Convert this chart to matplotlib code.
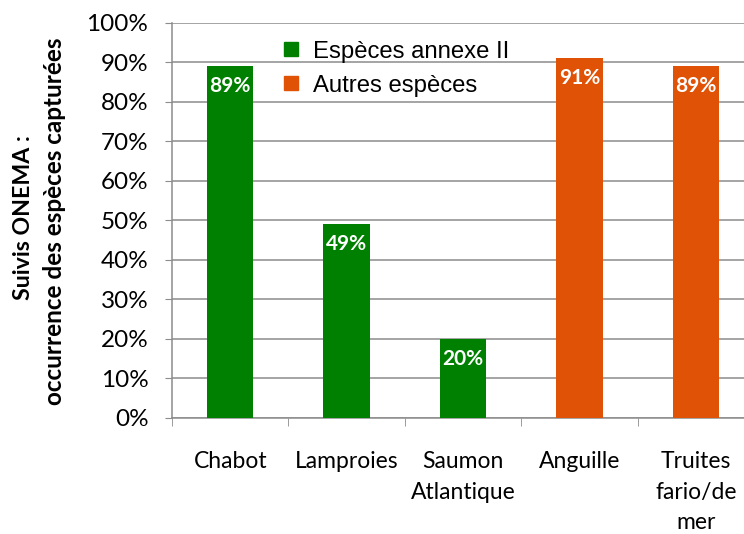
import matplotlib
matplotlib.use("Agg")
import matplotlib.pyplot as plt
from matplotlib.lines import Line2D
import numpy as np

categories = ["Chabot", "Lamproies", "Saumon\nAtlantique", "Anguille", "Truites\nfario/de\nmer"]
values = [89, 49, 20, 91, 89]
groups = ["annexe", "annexe", "annexe", "autres", "autres"]
legend_labels = {"annexe": "Espèces annexe II", "autres": "Autres espèces"}
colors = {"annexe": "#008000", "autres": "#E05206"}

fig = plt.figure(figsize=(7.44, 5.34), dpi=100)
ax = fig.add_axes([172 / 744, 1 - 418 / 534, (754 - 172) / 744, (418 - 22.7) / 534])

x = np.arange(len(categories))
ax.bar(x, values, width=0.4, color=[colors[g] for g in groups], zorder=3)
for xi, v in zip(x, values):
    ax.text(xi, v - 2.5, f"{v}%", ha="center", va="top", color="white",
            fontsize=15, fontweight="bold", family="Lato", zorder=4)

ax.set_xlim(-0.5, len(categories) - 0.5)
ax.set_ylim(0, 100)
ax.set_yticks(np.arange(0, 101, 10))
ax.set_yticklabels([f"{t}%" for t in range(0, 101, 10)], family="Lato", fontsize=17.5)
ax.set_xticks(x)
ax.set_xticklabels(categories, family="Lato", fontsize=16.5, linespacing=1.55)
ax.set_xticks(np.arange(-0.5, len(categories)), minor=True)
ax.tick_params(axis="x", which="major", length=0, pad=24)
ax.tick_params(axis="x", which="minor", length=6, color="#8c8c8c", direction="out")
ax.tick_params(axis="y", length=5, color="#8c8c8c", direction="out", pad=12)
ax.yaxis.grid(True, color="#8c8c8c", lw=1.1, zorder=0)
for s in ("top", "right"):
    ax.spines[s].set_visible(False)
for s in ("left", "bottom"):
    ax.spines[s].set_color("#8c8c8c")
    ax.spines[s].set_linewidth(1.1)

fig.text(24 / 744, 1 - 218 / 534, "Suivis ONEMA :", rotation=90, ha="center", va="center",
         family="Lato", fontweight="bold", fontsize=16.7)
fig.text(54 / 744, 1 - 221 / 534, "occurrence des espèces capturées", rotation=90,
         ha="center", va="center", family="Lato", fontweight="bold", fontsize=17.5)

handles = [Line2D([], [], marker="s", ls="", markersize=10, color=colors[g]) for g in ("annexe", "autres")]
ax.legend(handles, [legend_labels["annexe"], legend_labels["autres"]],
          loc="upper left", bbox_to_anchor=(260 / 744, 1 - 24 / 534), bbox_transform=fig.transFigure,
          frameon=False, prop={"family": "Liberation Sans", "size": 17.2},
          labelspacing=0.5, handletextpad=0.3, handlelength=1.2, borderpad=0.2)

fig.savefig("out.png", dpi=100)
